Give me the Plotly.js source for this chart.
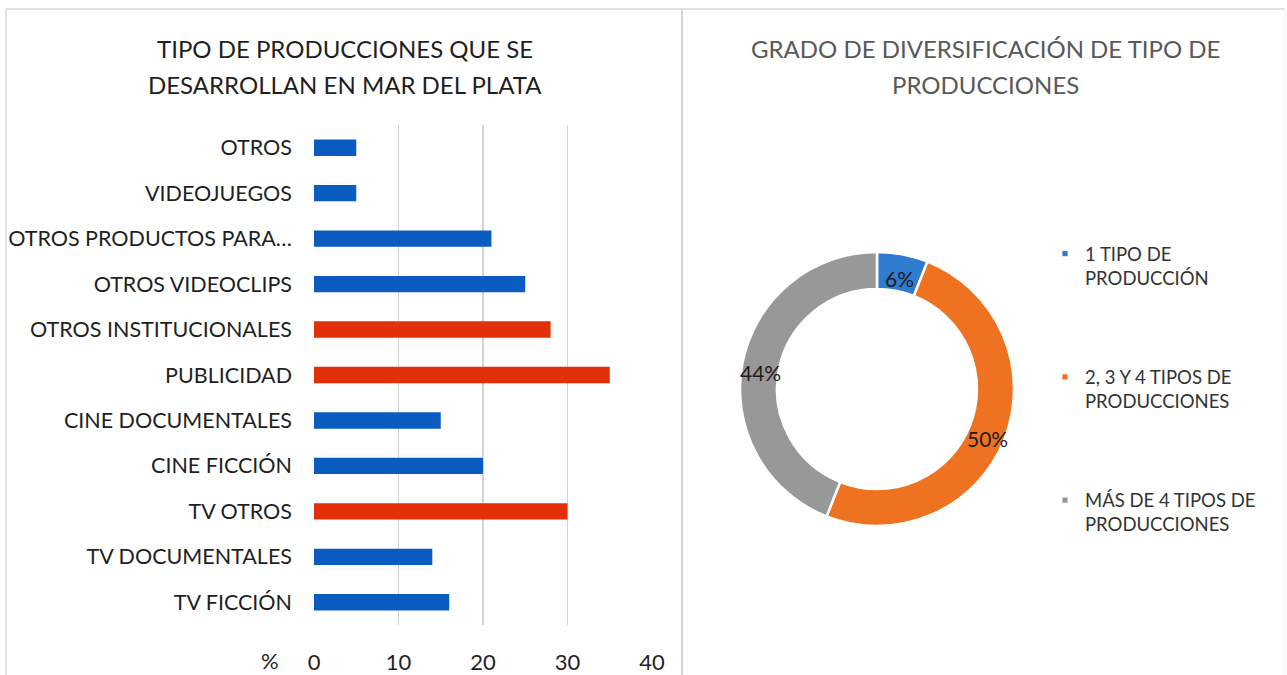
<!DOCTYPE html>
<html>
<head>
<meta charset="utf-8">
<script src="https://cdn.plot.ly/plotly-3.0.1.min.js"></script>
<style>
  html, body { margin: 0; padding: 0; background: #ffffff; }
  #chart { width: 1287px; height: 675px; }
</style>
</head>
<body>
<div id="chart"></div>
<script>
// ---- Data (top-to-bottom order as shown) ----
const categories = [
  "OTROS", "VIDEOJUEGOS", "OTROS PRODUCTOS PARA…", "OTROS VIDEOCLIPS",
  "OTROS INSTITUCIONALES", "PUBLICIDAD", "CINE DOCUMENTALES", "CINE FICCIÓN",
  "TV OTROS", "TV DOCUMENTALES", "TV FICCIÓN"
];
const percentages = [5, 5, 21, 25, 28, 35, 15, 20, 30, 14, 16];
const highlighted = ["OTROS INSTITUCIONALES", "PUBLICIDAD", "TV OTROS"];
const xTickValues = [0, 10, 20, 30, 40];

const diversLabels = ["1 TIPO DE<br>PRODUCCIÓN", "2, 3 Y 4 TIPOS DE<br>PRODUCCIONES", "MÁS DE 4 TIPOS DE<br>PRODUCCIONES"];
const diversValues = [6, 50, 44];

const leftTitleLines = ["TIPO DE PRODUCCIONES QUE SE", "DESARROLLAN EN MAR DEL PLATA"];
const rightTitleLines = ["GRADO DE DIVERSIFICACIÓN DE TIPO DE", "PRODUCCIONES"];

// ---- Styling ----
const FONT = "Lato, 'Open Sans', sans-serif";
const BLUE = "#0b5cc0";
const RED = "#e23108";
const W = 1287, H = 675;

const barColors = categories.map(c => highlighted.includes(c) ? RED : BLUE);

const barTrace = {
  type: "bar",
  orientation: "h",
  x: percentages,
  y: categories,
  marker: { color: barColors },
  width: 0.36,
  hoverinfo: "x+y",
  showlegend: false,
  xaxis: "x",
  yaxis: "y"
};

// Donut geometry
const PIE_CX = 877, PIE_CY = 389, PIE_R = 137, HOLE = 0.73;

// legend labels padded so marker aligns with first text line and items are spaced
const legendLabels = diversLabels.map(l => "<br><br>" + l + "<br>");

const pieTrace = {
  type: "pie",
  labels: legendLabels,
  values: diversValues,
  sort: false,
  direction: "clockwise",
  rotation: 0,
  hole: HOLE,
  marker: { colors: ["#2f7bd0", "#ee7220", "#989898"], line: { color: "#ffffff", width: 2.5 } },
  textinfo: "none",
  domain: { x: [(PIE_CX - PIE_R) / W, (PIE_CX + PIE_R) / W], y: [1 - (PIE_CY + PIE_R) / H, 1 - (PIE_CY - PIE_R) / H] },
  hoverinfo: "percent",
  showlegend: true
};

const annotations = [];
leftTitleLines.forEach((t, i) => annotations.push({
  text: t, xref: "paper", yref: "paper", x: 345 / W, y: 1 - (48 + i * 37) / H,
  xanchor: "center", yanchor: "middle", showarrow: false,
  font: { family: FONT, size: 24, color: "#1f1f1f" }
}));
rightTitleLines.forEach((t, i) => annotations.push({
  text: t, xref: "paper", yref: "paper", x: 985 / W, y: 1 - (48 + i * 37) / H,
  xanchor: "center", yanchor: "middle", showarrow: false,
  font: { family: FONT, size: 24, color: "#595959" }
}));
annotations.push({
  text: "%", xref: "paper", yref: "paper", x: 270 / W, y: 1 - 660 / H,
  xanchor: "center", yanchor: "middle", showarrow: false,
  font: { family: FONT, size: 22, color: "#1f1f1f" }
});

// Percent labels on the donut ring, at each slice's mid-angle (computed from the values)
const total = diversValues.reduce((a, b) => a + b, 0);
const midR = PIE_R * (1 + HOLE) / 2;
let cum = 0;
diversValues.forEach(v => {
  const mid = (cum + v / 2) / total * 2 * Math.PI;
  cum += v;
  annotations.push({
    text: Math.round(v / total * 100) + "%",
    xref: "paper", yref: "paper",
    x: PIE_CX / W, y: 1 - PIE_CY / H,
    xshift: midR * Math.sin(mid), yshift: midR * Math.cos(mid) - 6,
    xanchor: "center", yanchor: "middle", showarrow: false,
    font: { family: FONT, size: 21, color: "#1c1c1c" }
  });
});

const layout = {
  width: W, height: H,
  margin: { l: 0, r: 0, t: 0, b: 0 },
  paper_bgcolor: "#ffffff",
  plot_bgcolor: "rgba(0,0,0,0)",
  font: { family: FONT, color: "#1f1f1f" },
  xaxis: {
    domain: [314 / W, 652 / W],
    range: [0, 40],
    tickvals: xTickValues,
    showgrid: true, gridcolor: "#d4d4d4", gridwidth: 1.5,
    zeroline: false, showline: false,
    ticks: "", ticklabelstandoff: 22,
    tickfont: { family: FONT, size: 22, color: "#1f1f1f" },
    fixedrange: true
  },
  yaxis: {
    domain: [1 - 625 / H, 1 - 125 / H],
    autorange: "reversed",
    type: "category",
    showgrid: false, zeroline: false, showline: false,
    ticks: "", ticklabelstandoff: 21,
    tickfont: { family: FONT, size: 21.5, color: "#1f1f1f" },
    fixedrange: true
  },
  legend: {
    x: 1045 / W, y: 1 - 187 / H, xanchor: "left", yanchor: "top",
    font: { family: FONT, size: 18.5, color: "#333333" },
    bgcolor: "rgba(0,0,0,0)"
  },
  annotations: annotations,
  shapes: [
    { type: "line", xref: "paper", yref: "paper", x0: 6 / W, x1: 1285 / W, y0: 1 - 9 / H, y1: 1 - 9 / H, line: { color: "#d9d9d9", width: 1.5 } },
    { type: "line", xref: "paper", yref: "paper", x0: 6 / W, x1: 6 / W, y0: 0, y1: 1 - 9 / H, line: { color: "#d9d9d9", width: 1.5 } },
    { type: "line", xref: "paper", yref: "paper", x0: 682 / W, x1: 682 / W, y0: 0, y1: 1 - 9 / H, line: { color: "#d4d4d4", width: 2 } },
    { type: "line", xref: "paper", yref: "paper", x0: 1285 / W, x1: 1285 / W, y0: 0, y1: 1 - 9 / H, line: { color: "#ececec", width: 1 } }
  ]
};

Plotly.newPlot("chart", [barTrace, pieTrace], layout, { displayModeBar: false, staticPlot: true }).then(gd => {
  // smaller legend swatches, like the reference
  gd.querySelectorAll(".legendpoints path").forEach(p => {
    const t = p.getAttribute("transform") || "";
    p.setAttribute("transform", t + " scale(0.55)");
  });
});
</script>
</body>
</html>
